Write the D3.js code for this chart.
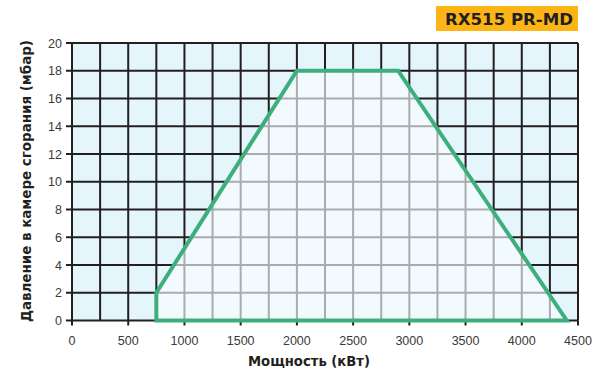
<!DOCTYPE html>
<html><head><meta charset="utf-8">
<script src="https://cdn.jsdelivr.net/npm/d3@7"></script>
<style>body{margin:0;background:#fff}svg{display:block}</style>
</head><body><div id="c"></div>
<script>
const title = "RX515 PR-MD";
const xLabel = "Мощность (кВт)";
const yLabel = "Давление в камере сгорания (мбар)";
const xTicks = [0,500,1000,1500,2000,2500,3000,3500,4000,4500];
const yTicks = [0,2,4,6,8,10,12,14,16,18,20];
const xGrid = d3.range(0, 4501, 250);
const yGrid = d3.range(0, 21, 2);
const powerKW = [750, 750, 2000, 2900, 4400];
const pressureMbar = [0, 2, 18, 18, 0];

const W = 601, H = 374;
const x = d3.scaleLinear().domain([0,4500]).range([72,578]);
const y = d3.scaleLinear().domain([0,20]).range([320.5,43]);
const svg = d3.select("#c").append("svg").attr("width",W).attr("height",H);

const black="#231f20", gray="#a9abae", green="#3daf7d";
svg.append("rect").attr("x",x(0)).attr("y",y(20)).attr("width",x(4500)-x(0)).attr("height",y(0)-y(20)).attr("fill","#e5f5fc");

function grid(g,color){
  g.selectAll("line.v").data(xGrid).join("line").attr("class","v")
    .attr("x1",d=>x(d)).attr("x2",d=>x(d)).attr("y1",y(0)).attr("y2",y(20))
    .attr("stroke",color).attr("stroke-width",2);
  g.selectAll("line.h").data(yGrid).join("line").attr("class","h")
    .attr("x1",x(0)).attr("x2",x(4500)).attr("y1",d=>y(d)).attr("y2",d=>y(d))
    .attr("stroke",color).attr("stroke-width",2);
}
grid(svg.append("g"), black);

const pts = powerKW.map((p,i)=>[x(p), y(pressureMbar[i])]);
const pathD = d3.line()(pts) + "Z";
svg.append("clipPath").attr("id","poly").append("path").attr("d",pathD);
svg.append("path").attr("d",pathD).attr("fill","#f3fafe");
grid(svg.append("g").attr("clip-path","url(#poly)"), gray);

// frame + ticks
const ax = svg.append("g").attr("font-family","Liberation Sans, Arial, sans-serif").attr("font-size",12.5).attr("fill","#3a3a3a");
ax.selectAll("line.xt").data(xTicks).join("line").attr("class","xt")
  .attr("x1",d=>x(d)).attr("x2",d=>x(d)).attr("y1",y(0)).attr("y2",y(0)+5).attr("stroke",black).attr("stroke-width",2);
ax.selectAll("line.yt").data(yTicks).join("line").attr("class","yt")
  .attr("x1",x(0)-6).attr("x2",x(0)).attr("y1",d=>y(d)).attr("y2",d=>y(d)).attr("stroke",black).attr("stroke-width",2);
ax.selectAll("text.xl").data(xTicks).join("text").attr("class","xl")
  .attr("x",d=>x(d)).attr("y",345).attr("text-anchor","middle").text(d=>d);
ax.selectAll("text.yl").data(yTicks).join("text").attr("class","yl")
  .attr("x",x(0)-10).attr("y",d=>y(d)+4.5).attr("text-anchor","end").text(d=>d);

svg.append("path").attr("d",pathD).attr("fill","none").attr("stroke",green).attr("stroke-width",4).attr("stroke-linejoin","miter");

const boldFont = "DejaVu Sans, Liberation Sans, sans-serif";
svg.append("text").attr("x",248).attr("y",366)
  .attr("font-family",boldFont).attr("font-weight","bold").attr("font-size",13.5).attr("fill","#231f20")
  .attr("textLength",122).attr("lengthAdjust","spacingAndGlyphs").text(xLabel);
svg.append("text").attr("transform","translate(31,322) rotate(-90)")
  .attr("font-family",boldFont).attr("font-weight","bold").attr("font-size",13.5).attr("fill","#231f20")
  .attr("textLength",282).attr("lengthAdjust","spacingAndGlyphs").text(yLabel);

svg.append("rect").attr("x",436).attr("y",6).attr("width",142).attr("height",25).attr("fill","#fdb515");
svg.append("text").attr("x",445).attr("y",25)
  .attr("font-family",boldFont).attr("font-weight","bold").attr("font-size",15).attr("fill","#231f20")
  .attr("textLength",128).attr("lengthAdjust","spacingAndGlyphs").text(title);
</script></body></html>
